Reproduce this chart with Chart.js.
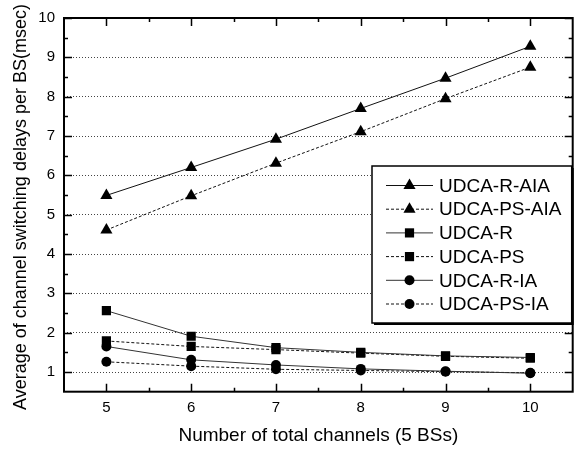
<!DOCTYPE html>
<html><head><meta charset="utf-8">
<script src="https://cdn.jsdelivr.net/npm/chart.js@4/dist/chart.umd.min.js"></script>
<style>html,body{margin:0;padding:0;background:#fff}#wrap{width:581px;height:449px}</style>
</head><body><div id="wrap"><canvas id="c" width="581" height="449"></canvas></div>
<script>
const channels = [5, 6, 7, 8, 9, 10];
const rAIA   = [5.49, 6.20, 6.92, 7.70, 8.47, 9.28];
const psAIA  = [4.61, 5.48, 6.31, 7.11, 7.95, 8.75];
const rBase  = [2.56, 1.91, 1.62, 1.50, 1.41, 1.37];
const psBase = [1.79, 1.65, 1.57, 1.48, 1.40, 1.35];
const rIA    = [1.65, 1.31, 1.18, 1.08, 1.02, 0.97];
const psIA   = [1.26, 1.15, 1.07, 1.04, 1.01, 0.98];
const seriesLabels = ['UDCA-R-AIA', 'UDCA-PS-AIA', 'UDCA-R', 'UDCA-PS', 'UDCA-R-IA', 'UDCA-PS-IA'];
const xTicks = [5, 6, 7, 8, 9, 10];
const yTicks = [1, 2, 3, 4, 5, 6, 7, 8, 9, 10];
const xTitle = 'Number of total channels (5 BSs)';
const yTitle = 'Average of channel switching delays per BS(msec)';

Chart.defaults.font.family = '"Liberation Sans", Arial, sans-serif';
Chart.defaults.color = '#000';

const pts = arr => channels.map((c, i) => ({x: c, y: arr[i]}));
const styles = [
  {data: rAIA,   dash: [],     color: '#111', ps: 'triangle', r: 7},
  {data: psAIA,  dash: [3, 2], color: '#111', ps: 'triangle', r: 7},
  {data: rBase,  dash: [],     color: '#333', ps: 'rect',     r: 6.5},
  {data: psBase, dash: [3, 2], color: '#111', ps: 'rect',     r: 6.5},
  {data: rIA,    dash: [],     color: '#333', ps: 'circle',   r: 5},
  {data: psIA,   dash: [3, 2], color: '#111', ps: 'circle',   r: 5}
];
const datasets = styles.map((s, i) => ({
  label: seriesLabels[i],
  data: pts(s.data),
  borderColor: s.color,
  borderWidth: 1,
  borderDash: s.dash,
  backgroundColor: '#000',
  pointStyle: s.ps,
  pointRadius: s.r,
  pointBackgroundColor: '#000',
  pointBorderColor: '#000',
  pointBorderWidth: 0,
  tension: 0,
  fill: false
}));

function drawMarker(ctx, style, r, x, y) {
  ctx.beginPath();
  if (style === 'triangle') {
    ctx.moveTo(x, y - r);
    ctx.lineTo(x + r * Math.sin(2 * Math.PI / 3), y - r * Math.cos(2 * Math.PI / 3));
    ctx.lineTo(x + r * Math.sin(4 * Math.PI / 3), y - r * Math.cos(4 * Math.PI / 3));
    ctx.closePath();
  } else if (style === 'rect') {
    const h = Math.SQRT1_2 * r;
    ctx.rect(x - h, y - h, 2 * h, 2 * h);
  } else {
    ctx.arc(x, y, r, 0, Math.PI * 2);
  }
  ctx.fillStyle = '#000';
  ctx.fill();
}

const framePlugin = {
  id: 'frame',
  afterDraw(chart) {
    const {ctx, chartArea: a, scales: {x, y}} = chart;
    ctx.save();
    ctx.strokeStyle = '#000';
    ctx.setLineDash([]);
    ctx.lineWidth = 2;
    ctx.strokeRect(a.left, a.top, a.right - a.left, a.bottom - a.top);
    ctx.lineWidth = 1.5;
    ctx.beginPath();
    xTicks.forEach(v => {
      const p = Math.round(x.getPixelForValue(v)) + 0.5;
      ctx.moveTo(p, a.bottom); ctx.lineTo(p, a.bottom - 8);
      ctx.moveTo(p, a.top); ctx.lineTo(p, a.top + 8);
      if (v < 10) {
        const m = Math.round(x.getPixelForValue(v + 0.5)) + 0.5;
        ctx.moveTo(m, a.bottom); ctx.lineTo(m, a.bottom - 4);
        ctx.moveTo(m, a.top); ctx.lineTo(m, a.top + 4);
      }
    });
    yTicks.forEach(v => {
      const p = Math.round(y.getPixelForValue(v)) + 0.5;
      ctx.moveTo(a.left, p); ctx.lineTo(a.left + 8, p);
      ctx.moveTo(a.right, p); ctx.lineTo(a.right - 8, p);
      if (v < 10) {
        const m = Math.round(y.getPixelForValue(v + 0.5)) + 0.5;
        ctx.moveTo(a.left, m); ctx.lineTo(a.left + 4, m);
        ctx.moveTo(a.right, m); ctx.lineTo(a.right - 4, m);
      }
    });
    ctx.stroke();

    // y axis title
    ctx.save();
    ctx.translate(21.5, 207);
    ctx.rotate(-Math.PI / 2);
    ctx.font = '18px "Liberation Sans", Arial, sans-serif';
    ctx.textAlign = 'center';
    ctx.textBaseline = 'middle';
    ctx.fillStyle = '#000';
    ctx.fillText(yTitle, 0, 0);
    ctx.restore();

    // legend
    const bx = 372, by = 166, bw = a.right - 372 - 1, bh = 157;
    ctx.fillStyle = '#000';
    ctx.fillRect(bx + 2, by + 2, bw, bh);
    ctx.fillStyle = '#fff';
    ctx.fillRect(bx, by, bw, bh);
    ctx.lineWidth = 1.5;
    ctx.strokeRect(bx, by, bw, bh);

    ctx.font = '19px "Liberation Sans", Arial, sans-serif';
    ctx.textBaseline = 'middle';
    ctx.textAlign = 'left';
    chart.data.datasets.forEach((ds, i) => {
      const ly = 185.5 + i * 23.7;
      ctx.save();
      ctx.strokeStyle = ds.borderColor;
      ctx.lineWidth = 1;
      ctx.setLineDash(ds.borderDash);
      ctx.beginPath();
      ctx.moveTo(386, ly); ctx.lineTo(433, ly);
      ctx.stroke();
      ctx.restore();
      drawMarker(ctx, ds.pointStyle, ds.pointRadius, 409.5, ly);
      ctx.fillStyle = '#000';
      ctx.fillText(ds.label, 439, ly + 1);
    });
    ctx.restore();
  }
};

new Chart(document.getElementById('c'), {
  type: 'line',
  data: {datasets},
  options: {
    responsive: false,
    animation: false,
    devicePixelRatio: 1,
    layout: {padding: {top: 11, right: 8.3, left: 0, bottom: 0}},
    plugins: {legend: {display: false}, tooltip: {enabled: false}},
    scales: {
      x: {
        type: 'linear', min: 4.5, max: 10.5,
        afterBuildTicks: s => { s.ticks = xTicks.map(v => ({value: v})); },
        afterFit: s => { s.height = 57.3; },
        grid: {display: false, drawTicks: false},
        border: {display: false},
        ticks: {font: {size: 15}, color: '#000', padding: 7, maxRotation: 0},
        title: {display: true, text: xTitle, font: {size: 19}, color: '#000', padding: {top: 0, bottom: 1.5}}
      },
      y: {
        type: 'linear', min: 0.5, max: 10,
        afterBuildTicks: s => { s.ticks = yTicks.map(v => ({value: v})); },
        afterFit: s => { s.width = 64; },
        grid: {display: true, drawTicks: false, color: '#444', lineWidth: 1},
        border: {display: false, dash: [1, 2]},
        ticks: {font: {size: 15}, color: '#000', padding: 9},
        title: {display: false, text: yTitle}
      }
    }
  },
  plugins: [framePlugin]
});
</script>
</body></html>
